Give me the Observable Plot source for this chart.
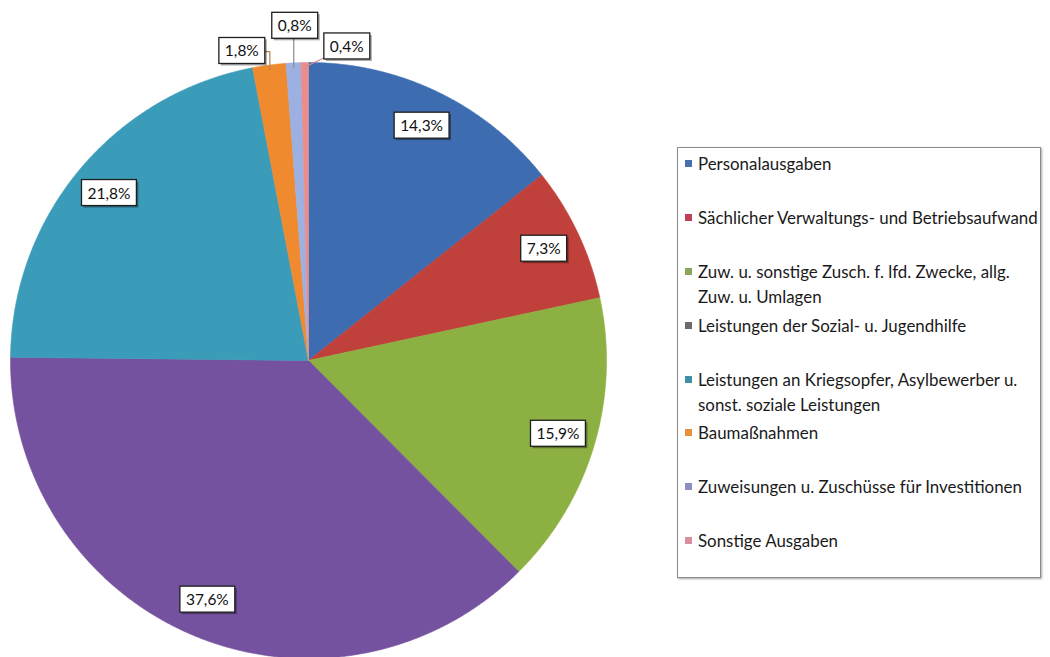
<!DOCTYPE html>
<html>
<head>
<meta charset="utf-8">
<script src="https://cdn.jsdelivr.net/npm/d3@7"></script>
<script src="https://cdn.jsdelivr.net/npm/@observablehq/plot@0.6"></script>
<style>
  body { margin: 0; background: #fff; }
  #wrap { position: relative; width: 1050px; height: 657px; overflow: hidden; font-family: Lato, "Open Sans", sans-serif; }
  #legend { position: absolute; left: 677px; top: 147px; width: 364px; height: 431px;
            border: 1px solid #8c8c8c; box-shadow: 1px 1px 2px rgba(0,0,0,0.35); background: #fff; box-sizing: border-box;
            padding-top: 3px; }
  .item { height: 53.9px; position: relative; }
  .sw { position: absolute; left: 7px; top: 9px; width: 7px; height: 7px; }
  .lt { position: absolute; left: 20px; top: 0; font-size: 16.9px; line-height: 25px; color: #1a1a1a; white-space: nowrap; }
</style>
</head>
<body>
<div id="wrap"><div id="chart"></div><div id="legend"></div></div>
<script>
// ---- data ----
const categories = [
  "Personalausgaben",
  "Sächlicher Verwaltungs- und Betriebsaufwand",
  "Zuw. u. sonstige Zusch. f. lfd. Zwecke, allg.\nZuw. u. Umlagen",
  "Leistungen der Sozial- u. Jugendhilfe",
  "Leistungen an Kriegsopfer, Asylbewerber u.\nsonst. soziale Leistungen",
  "Baumaßnahmen",
  "Zuweisungen u. Zuschüsse für Investitionen",
  "Sonstige Ausgaben"
];
const values = [14.3, 7.3, 15.9, 37.6, 21.8, 1.8, 0.8, 0.4];
const sliceColors = ["#3d6db0", "#c0413b", "#8db043", "#7552a0", "#3b9cb9", "#f08a2e", "#9db0e2", "#e88e8e"];
const legendColors = ["#4a6fae", "#c0405a", "#8aa65a", "#6b6b6b", "#3f8fa6", "#e8903e", "#8a8fbf", "#d98f9f"];
const leaderColors = ["#999", "#999", "#999", "#999", "#999", "#b98050", "#8c8c8c", "#e08a86"];
// layout for labels placed outside the pie (pixel offsets from slice rim)
const outsideLayout = { 5: {dx: -28, dy: -18, knee: true}, 6: {dx: 1, dy: -41, knee: true}, 7: {dx: 42, dy: -20, knee: false} };

// ---- geometry ----
const cx = 308, cy = 360, R = 298;
const fmt = v => d3.format(".1f")(v).replace(".", ",") + "%";
const arcs = d3.pie().sort(null).value(d => d)(values);
const pt = (a, r) => ({x: r * Math.sin(a), y: r * Math.cos(a)});

const poly = [];
arcs.forEach((a, i) => {
  const n = Math.max(2, Math.ceil((a.endAngle - a.startAngle) / 0.005));
  poly.push({name: categories[i], ...pt(0, 0)});
  for (let k = 0; k <= n; k++) {
    const ang = a.startAngle + (a.endAngle - a.startAngle) * k / n;
    poly.push({name: categories[i], ...pt(ang, 1)});
  }
  poly.push({name: categories[i], ...pt(0, 0)});
});

const labelRows = [];
const leaderRows = [];
arcs.forEach((a, i) => {
  const mid = (a.startAngle + a.endAngle) / 2;
  const L = outsideLayout[i];
  if (!L) {
    labelRows.push({text: fmt(values[i]), ...pt(mid, 0.873)});
  } else {
    const s = pt(mid, 0.985);
    const lab = {x: s.x + L.dx / R, y: s.y - L.dy / R};
    labelRows.push({text: fmt(values[i]), ...lab});
    leaderRows.push({name: categories[i], ...s});
    if (L.knee) leaderRows.push({name: categories[i], x: s.x, y: lab.y});
    leaderRows.push({name: categories[i], ...lab});
  }
});

const chart = Plot.plot({
  width: 1050, height: 657, margin: 0,
  x: {domain: [-1, 1], range: [cx - R, cx + R], axis: null},
  y: {domain: [-1, 1], range: [cy + R, cy - R], axis: null},
  color: {domain: categories, range: sliceColors},
  style: {background: "transparent", overflow: "visible"},
  marks: [
    Plot.line(poly, {x: "x", y: "y", z: "name", fill: "name", stroke: "name", strokeWidth: 0.6, curve: "linear"}),
    Plot.line(leaderRows, {x: "x", y: "y", z: "name", stroke: d => leaderColors[categories.indexOf(d.name)], strokeWidth: 1.2, curve: "linear"}),
    Plot.text(labelRows, {x: "x", y: "y", text: "text", fontSize: 15.5, fill: "#111", fontFamily: "Lato, 'Open Sans', sans-serif", className: "plab"})
  ]
});
document.getElementById("chart").appendChild(chart);

// label boxes behind the text
const ns = "http://www.w3.org/2000/svg";
chart.querySelectorAll(".plab text").forEach(t => {
  const b = t.getBBox();
  const g = t.parentNode;
  const tr = t.getAttribute("transform");
  const pad = 6, padY = 4;
  const mk = (dx, fill) => {
    const r = document.createElementNS(ns, "rect");
    r.setAttribute("x", b.x - pad + dx); r.setAttribute("y", b.y - padY + dx);
    r.setAttribute("width", b.width + 2 * pad); r.setAttribute("height", b.height + 2 * padY);
    r.setAttribute("fill", fill);
    if (tr) r.setAttribute("transform", tr);
    return r;
  };
  const sh = mk(2, "rgba(0,0,0,0.35)");
  const r = mk(0, "#fff");
  r.setAttribute("stroke", "#1e1e1e"); r.setAttribute("stroke-width", 1.3);
  g.insertBefore(sh, t); g.insertBefore(r, t);
});

// legend
const lg = d3.select("#legend");
categories.forEach((c, i) => {
  const it = lg.append("div").attr("class", "item");
  it.append("div").attr("class", "sw").style("background", legendColors[i]);
  it.append("div").attr("class", "lt").html(c.replace("\n", "<br>"));
});
</script>
</body>
</html>
